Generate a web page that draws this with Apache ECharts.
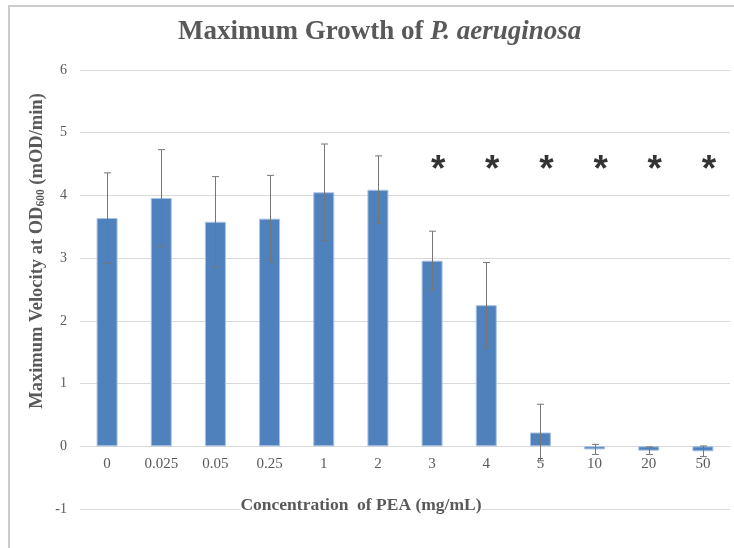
<!DOCTYPE html>
<html>
<head>
<meta charset="utf-8">
<script src="https://cdn.jsdelivr.net/npm/echarts@6/dist/echarts.min.js"></script>
<style>html,body{margin:0;padding:0;background:#fff}#c{width:734px;height:548px}</style>
</head>
<body>
<div id="c"></div>
<script>
const categories = ['0', '0.025', '0.05', '0.25', '1', '2', '3', '4', '5', '10', '20', '50'];
const meanVelocity = [3.64, 3.96, 3.58, 3.63, 4.05, 4.09, 2.96, 2.25, 0.22, -0.05, -0.07, -0.08];
const errorVelocity = [0.72, 0.77, 0.72, 0.69, 0.77, 0.54, 0.47, 0.68, 0.45, 0.08, 0.06, 0.085];
const significantCategories = ['3', '4', '5', '10', '20', '50'];
const starLevel = 4.53;
const yTicks = { min: -1, max: 6, interval: 1 };

const chart = echarts.init(document.getElementById('c'), null, { renderer: 'canvas' });
const serif = 'Liberation Serif, Times New Roman, serif';
const grey = '#595959';

const errData = categories.map((c, i) => [i, meanVelocity[i], errorVelocity[i]]);

chart.setOption({
  animation: false,
  backgroundColor: '#fff',
  title: {
    text: '{a|Maximum Growth of }{b|P. aeruginosa}',
    left: 173,
    top: 14,
    textStyle: {
      rich: {
        a: { fontFamily: serif, fontWeight: 'bold', fontSize: 27, color: grey },
        b: { fontFamily: serif, fontWeight: 'bold', fontStyle: 'italic', fontSize: 27, color: grey }
      }
    }
  },
  grid: { left: 80, right: 4, top: 70, bottom: 39, containLabel: false },
  xAxis: {
    type: 'category',
    data: categories,
    offset: -62.7,
    axisLine: { onZero: false, lineStyle: { color: '#d9d9d9', width: 1 } },
    axisTick: { show: false },
    axisLabel: { fontFamily: serif, fontSize: 15, color: grey, margin: 10 },
    splitLine: { show: false }
  },
  yAxis: {
    type: 'value',
    min: yTicks.min, max: yTicks.max, interval: yTicks.interval,
    axisLine: { show: false },
    axisTick: { show: false },
    axisLabel: { fontFamily: serif, fontSize: 14, color: grey, margin: 13 },
    splitLine: { lineStyle: { color: '#d9d9d9', width: 1 } }
  },
  series: [
    {
      type: 'bar',
      data: meanVelocity,
      barWidth: 21,
      itemStyle: { color: '#4f81bd', borderColor: '#a9c2e2', borderWidth: 1 },
      z: 2
    },
    {
      type: 'custom',
      data: errData,
      z: 3,
      renderItem: function (params, api) {
        const i = api.value(0), m = api.value(1), e = api.value(2);
        const top = api.coord([i, m + e]);
        const bot = api.coord([i, m - e]);
        const x = Math.round(top[0]) + 0.5;
        const cap = 3.5;
        const st = { stroke: '#767676', lineWidth: 1 };
        return {
          type: 'group',
          children: [
            { type: 'line', shape: { x1: x, y1: top[1], x2: x, y2: bot[1] }, style: st },
            { type: 'line', shape: { x1: x - cap, y1: top[1], x2: x + cap, y2: top[1] }, style: st },
            { type: 'line', shape: { x1: x - cap, y1: bot[1], x2: x + cap, y2: bot[1] }, style: st }
          ]
        };
      }
    },
    {
      type: 'scatter',
      data: significantCategories.map(c => [c, starLevel]),
      symbolSize: 0,
      z: 4,
      label: {
        show: true,
        position: 'inside',
        formatter: '*',
        fontFamily: 'Liberation Sans, Arial, sans-serif',
        fontWeight: 'bold',
        fontSize: 37,
        color: '#000',
        offset: [6, 9]
      }
    }
  ],
  graphic: [
    {
      type: 'rect', silent: true, z: 0,
      shape: { x: 9, y: 6, width: 900, height: 900 },
      style: { fill: 'none', stroke: '#cccccc', lineWidth: 2 }
    },
    {
      type: 'text', silent: true, z: 10,
      x: 361, y: 505,
      style: {
        text: 'Concentration  of PEA (mg/mL)',
        fontFamily: serif, fontWeight: 'bold', fontSize: 17.5, fill: grey,
        align: 'center', verticalAlign: 'middle',
        backgroundColor: '#fff'
      }
    },
    {
      type: 'text', silent: true, z: 10,
      x: 37.5, y: 251, rotation: Math.PI / 2,
      style: {
        text: '{m|Maximum Velocity at OD}{s|600}{m| (mOD/min)}',
        align: 'center', verticalAlign: 'middle',
        rich: {
          m: { fontFamily: serif, fontWeight: 'bold', fontSize: 18.5, fill: grey, lineHeight: 20 },
          s: { fontFamily: serif, fontWeight: 'bold', fontSize: 11.5, fill: grey, lineHeight: 20, verticalAlign: 'bottom', padding: [7, 0, 0, 0] }
        }
      }
    }
  ]
});
</script>
</body>
</html>
